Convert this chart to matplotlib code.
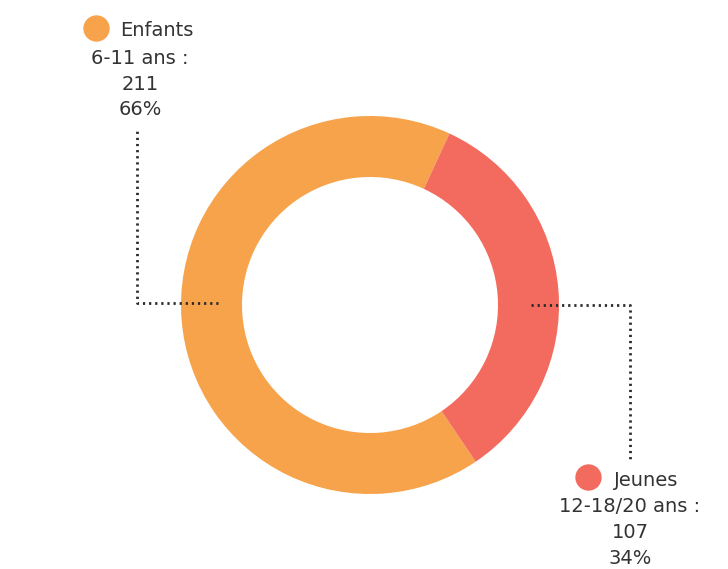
import matplotlib.pyplot as plt

labels = ["Enfants", "Jeunes"]
ages = ["6-11 ans :", "12-18/20 ans :"]
counts = [211, 107]
percents = ["66%", "34%"]
colors = ["#F7A34B", "#F36B5F"]

W, H = 728, 569
fig = plt.figure(figsize=(W / 100, H / 100), dpi=100)
ax = fig.add_axes([0, 0, 1, 1])

cx, cy = 370, H - 305
ax.pie(counts, colors=colors, startangle=-56, counterclock=False,
       center=(cx, cy), radius=189, frame=True,
       wedgeprops=dict(width=61, linewidth=0))
ax.set_xlim(0, W)
ax.set_ylim(0, H)
ax.set_aspect("equal")
ax.axis("off")

dots = dict(color="#2b2b2b", lw=2.0, linestyle=(0, (0.8, 1.4)))
ax.plot([218, 137, 137], [H - 303, H - 303, H - 128], **dots)
ax.plot([531, 630, 630], [H - 305, H - 305, H - 462], **dots)

txt = dict(fontsize=14, color="#333333", ha="center", va="center")

# Enfants block
ax.scatter([96], [H - 28], s=360, color=colors[0], zorder=3, linewidths=0)
ax.text(157, H - 30, labels[0], **txt)
ax.text(140, H - 58, ages[0], **txt)
ax.text(140, H - 84, str(counts[0]), **txt)
ax.text(140, H - 109, percents[0], **txt)

# Jeunes block
ax.scatter([588], [H - 477], s=360, color=colors[1], zorder=3, linewidths=0)
ax.text(646, H - 480, labels[1], **txt)
ax.text(630, H - 507, ages[1], **txt)
ax.text(630, H - 533, str(counts[1]), **txt)
ax.text(630, H - 558, percents[1], **txt)

fig.savefig("out.png", dpi=100)
